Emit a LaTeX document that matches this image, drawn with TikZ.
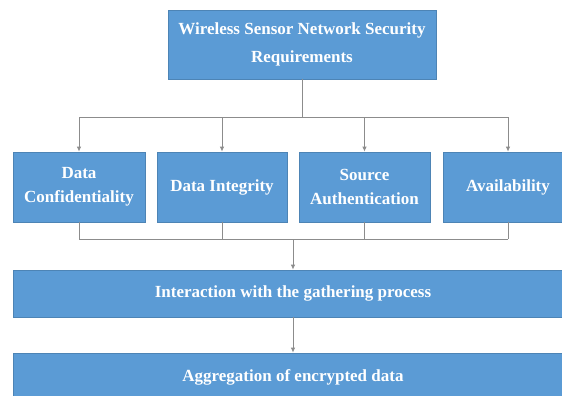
\documentclass[tikz,border=0pt]{standalone}
\usepackage{fontspec}
\setmainfont{Liberation Serif}
\usetikzlibrary{arrows.meta}
\definecolor{boxblue}{RGB}{91,155,213}
\definecolor{linegray}{RGB}{140,140,140}

\begin{document}
\begin{tikzpicture}[x=1pt,y=-1pt,
  box/.style={fill=boxblue,draw=boxblue!85!black,line width=0.6pt,text=white,
    font=\fontsize{17}{24}\selectfont\bfseries,align=center,inner sep=0pt},
  link/.style={draw=linegray,line width=0.9pt},
  arr/.style={link,-{Latex[length=5pt,width=4.5pt]}}]
  \useasboundingbox (0,0) rectangle (562,396);
  \clip (0,0) rectangle (562,396);

  \node[box,minimum width=268pt,minimum height=69pt,
    font=\fontsize{17}{28}\selectfont\bfseries] (req) at (302,44.5)
    {Wireless Sensor Network Security\\Requirements};

  \node[box,minimum width=132pt,minimum height=70pt] (conf) at (79,187) {Data\\Confidentiality};
  \node[box,minimum width=130pt,minimum height=70pt] (integ) at (222,187) {Data Integrity};
  \node[box,minimum width=131pt,minimum height=70pt] (auth) at (364.5,187) {Source\\Authentication};
  \node[box,minimum width=130pt,minimum height=70pt] (avail) at (508,187) {Availability};

  \node[box,minimum width=560pt,minimum height=47pt] (inter) at (293,293.5)
    {Interaction with the gathering process};
  \node[box,minimum width=560pt,minimum height=48pt] (aggr) at (293,377)
    {Aggregation of encrypted data};

  \coordinate (split) at (302,117);
  \coordinate (join) at (293,239);

  \draw[link] (req) -- (split);
  \draw[link] (conf.north |- split) -- (avail.north |- split);
  \foreach \n in {conf,integ,auth,avail}
    \draw[arr] (\n.north |- split) -- (\n.north);

  \foreach \n in {conf,integ,auth,avail}
    \draw[link] (\n.south) -- (\n.south |- join);
  \draw[link] (conf.south |- join) -- (avail.south |- join);
  \draw[arr] (join) -- (inter.north);

  \draw[arr] (inter) -- (aggr);
\end{tikzpicture}
\end{document}
